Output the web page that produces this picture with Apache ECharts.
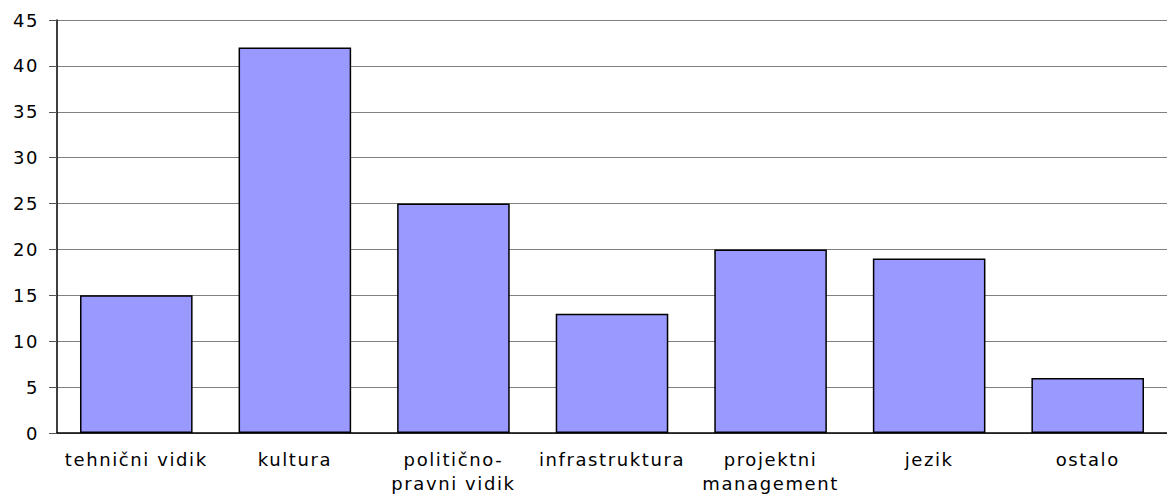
<!DOCTYPE html>
<html>
<head>
<meta charset="utf-8">
<script src="https://cdn.jsdelivr.net/npm/echarts@6/dist/echarts.min.js"></script>
<style>
  html, body { margin: 0; padding: 0; background: #fff; }
  #main { width: 1167px; height: 495px; }
  /* the original text is drawn wide; spread the letters a bit */
  #main text { letter-spacing: 1.6px; }
</style>
</head>
<body>
<div id="main"></div>
<script>
const categories = [
  "tehnični vidik",
  "kultura",
  "politično-\npravni vidik",
  "infrastruktura",
  "projektni\nmanagement",
  "jezik",
  "ostalo"
];
const values = [15, 42, 25, 13, 20, 19, 6];

const chart = echarts.init(document.getElementById("main"), null, { renderer: "svg" });

const font = "DejaVu Sans, sans-serif";

chart.setOption({
  animation: false,
  grid: {
    left: 57,
    top: 20,
    width: 1116,
    height: 414,
    containLabel: false
  },
  xAxis: {
    type: "category",
    data: categories,
    axisLine: { lineStyle: { color: "#000", width: 1.5 } },
    axisTick: { length: 6, lineStyle: { color: "#000" } },
    axisLabel: {
      color: "#000",
      fontFamily: font,
      fontSize: 18,
      lineHeight: 24,
      margin: 14,
      interval: 0
    }
  },
  yAxis: {
    type: "value",
    min: 0,
    max: 45,
    interval: 5,
    axisLine: { show: true, lineStyle: { color: "#000", width: 1.5 } },
    axisTick: { show: true, length: 8, lineStyle: { color: "#555" } },
    axisLabel: {
      color: "#000",
      fontFamily: font,
      fontSize: 18,
      margin: 18
    },
    splitLine: { lineStyle: { color: "#808080", width: 1 } }
  },
  series: [
    {
      type: "bar",
      data: values,
      barCategoryGap: "29%",
      itemStyle: {
        color: "#9999ff",
        borderColor: "#000",
        borderWidth: 1.5
      }
    }
  ]
});
</script>
</body>
</html>
